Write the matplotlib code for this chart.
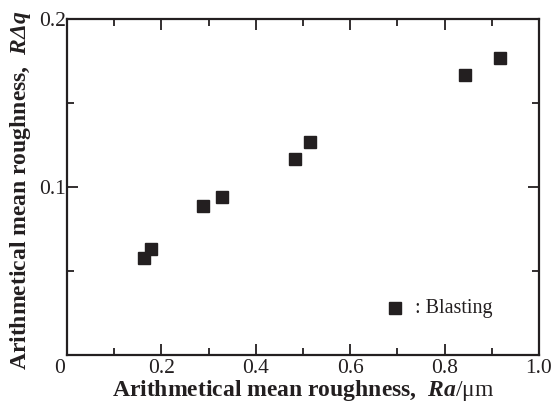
import numpy as np
import matplotlib
matplotlib.use('agg')
import matplotlib.pyplot as plt
import matplotlib.transforms as mtransforms
from matplotlib.ticker import MultipleLocator

plt.rcParams['font.family'] = ['Liberation Serif', 'DejaVu Serif']
plt.rcParams['mathtext.fontset'] = 'custom'
plt.rcParams['mathtext.rm'] = 'Liberation Serif'
plt.rcParams['mathtext.it'] = 'Liberation Serif:italic'
plt.rcParams['mathtext.bf'] = 'Liberation Serif:bold'
plt.rcParams['mathtext.bfit'] = 'Liberation Serif:italic:bold'

# blasting samples: Ra [um] vs RΔq
ra = [0.163, 0.178, 0.288, 0.328, 0.483, 0.515, 0.843, 0.917]
rdq = [0.058, 0.063, 0.089, 0.094, 0.117, 0.127, 0.167, 0.177]

fig = plt.figure(figsize=(5.59, 4.07), dpi=100)
ax = fig.add_axes([0.1199, 0.1278, 0.8441, 0.8252])

ax.plot(ra, rdq, 's', color='#231f20', markersize=8.5, linestyle='none')

ax.set_xlim(0, 1.0)
ax.set_ylim(0, 0.2)
ax.xaxis.set_minor_locator(MultipleLocator(0.1))
ax.yaxis.set_minor_locator(MultipleLocator(0.05))
ax.set_xticks([0, 0.2, 0.4, 0.6, 0.8, 1.0])
ax.set_xticklabels(['0', '0.2', '0.4', '0.6', '0.8', '1.0'])
ax.set_yticks([0.1, 0.2])
ax.set_yticklabels(['0.1', '0.2'])

ax.tick_params(which='both', direction='in', top=True, right=True,
               labelsize=15.5, width=1.3, colors='#231f20')
ax.tick_params(axis='x', which='major', length=8, pad=3)
ax.tick_params(axis='y', which='major', length=8, pad=1)
ax.tick_params(which='minor', length=5)
for s in ax.spines.values():
    s.set_linewidth(1.6)
    s.set_color('#231f20')

# nudge the origin label to the left
lbl0 = ax.get_xticklabels()[0]
lbl0.set_transform(lbl0.get_transform() +
                   mtransforms.ScaledTranslation(-7 / 100, 0, fig.dpi_scale_trans))

ax.set_xlabel(r'Arithmetical mean roughness,  $\mathbfit{Ra}\mathrm{/μm}$',
              fontsize=17, fontweight='bold', labelpad=0, color='#231f20')
ax.set_ylabel(r'Arithmetical mean roughness,  $\mathbfit{R\Delta q}$',
              fontsize=17, fontweight='bold', color='#231f20')
ax.yaxis.set_label_coords(-0.072, 0.49)

# legend drawn by hand
ax.plot([0.695], [0.0278], 's', color='#231f20', markersize=8.5)
ax.text(0.737, 0.0278, ': Blasting', fontsize=14.5, va='center', ha='left',
        color='#231f20')

fig.savefig('out.png', dpi=100)
